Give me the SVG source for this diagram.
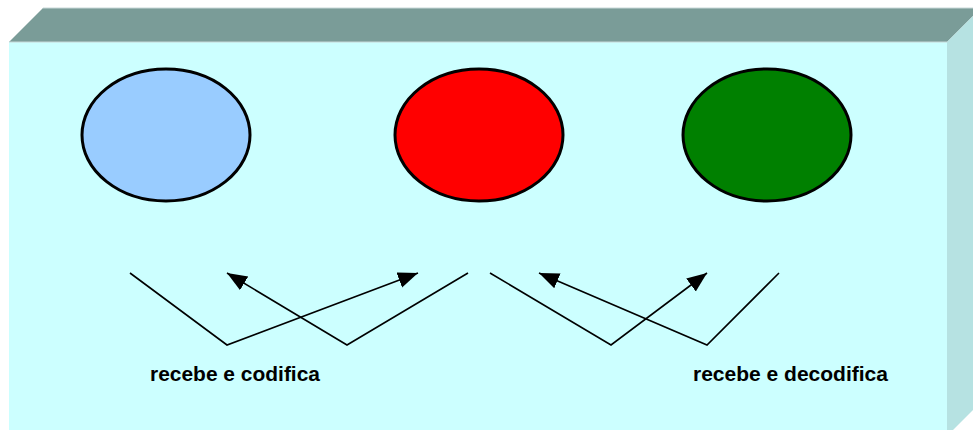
<svg xmlns="http://www.w3.org/2000/svg" width="973" height="430" viewBox="0 0 973 430">
<defs>
<marker id="ah" markerUnits="userSpaceOnUse" markerWidth="22" markerHeight="18" refX="20" refY="8" orient="auto">
<path d="M0,0 L20,8 L0,16 Z" fill="#000"/>
</marker>
</defs>
<style>
.ell{stroke:#000;stroke-width:3}
.con{fill:none;stroke:#000;stroke-width:1.6}
.lbl{font-family:"Liberation Sans",Arial,sans-serif;font-weight:bold;font-size:20px;fill:#000}
</style>
<rect width="973" height="430" fill="#fff"/>
<g id="box">
<polygon points="9,42 43,8 981,8 947,42" fill="#7a9c98"/>
<polygon points="947,42 981,8 981,402 947,436" fill="#b6e2e2"/>
<rect x="9" y="42" width="938" height="394" fill="#ccffff"/>
<line x1="9" y1="42" x2="947" y2="42" stroke="#c8d8d8" stroke-width="1"/>
<line x1="43" y1="8" x2="981" y2="8" stroke="#c8d8d8" stroke-width="1"/>
</g>
<g id="node-blue"><ellipse class="ell" cx="166" cy="135" rx="84" ry="66" fill="#99ccff"/></g>
<g id="node-red"><ellipse class="ell" cx="479" cy="135" rx="84" ry="66" fill="#ff0000"/></g>
<g id="node-green"><ellipse class="ell" cx="767" cy="135" rx="84" ry="66" fill="#008000"/></g>
<g id="connectors">
<polyline class="con" points="130,273 227,345 418,273" marker-end="url(#ah)"/>
<polyline class="con" points="468,273 347,345 227,273" marker-end="url(#ah)"/>
<polyline class="con" points="490,273 611,345 707,273" marker-end="url(#ah)"/>
<polyline class="con" points="779,273 707,345 539,273" marker-end="url(#ah)"/>
</g>
<g id="labels">
<text class="lbl" x="150" y="381" textLength="170" lengthAdjust="spacingAndGlyphs">recebe e codifica</text>
<text class="lbl" x="693" y="381" textLength="195" lengthAdjust="spacingAndGlyphs">recebe e decodifica</text>
</g>
</svg>
